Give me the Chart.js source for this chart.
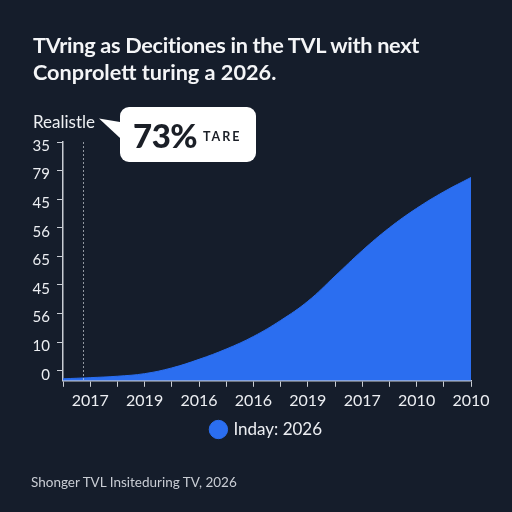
<!DOCTYPE html>
<html>
<head>
<meta charset="utf-8">
<script src="https://cdn.jsdelivr.net/npm/chart.js@4.4.1/dist/chart.umd.min.js"></script>
<style>
  html, body { margin: 0; padding: 0; background: #151d2b; }
  #wrap { position: relative; width: 512px; height: 512px; overflow: hidden; background: #151d2b; font-family: Lato, "Open Sans", sans-serif; }
  #chart-box { position: absolute; left: 0; top: 0; width: 512px; height: 512px; }
  .title { position: absolute; left: 33px; top: 32px; color: #f4f5f7; font-weight: 700; font-size: 21.7px; line-height: 27px; }
  .title .l1 { letter-spacing: -0.3px; }
  .realistle { position: absolute; left: 33px; top: 111px; color: #eef0f3; font-size: 17px; }
  .pointer { position: absolute; left: 99px; top: 116px; width: 24px; height: 26px; background: #fff; clip-path: polygon(0 10%, 100% 25%, 100% 95%); }
  .callout { position: absolute; left: 120px; top: 107px; width: 136px; height: 55px; background: #fff; border-radius: 9px; }
  .callout .big { position: absolute; left: 13px; top: 8px; font-size: 33px; font-weight: 900; color: #1b1f27; letter-spacing: -0.5px; }
  .callout .small { position: absolute; left: 83px; top: 22px; font-size: 12.5px; font-weight: 700; color: #1b1f27; letter-spacing: 2px; }
  .footer { position: absolute; left: 31px; top: 474px; color: #c9cdd4; font-size: 13.5px; }
</style>
</head>
<body>
<div id="wrap">
  <div id="chart-box"><canvas id="chart"></canvas></div>
  <div class="title"><span class="l1">TVring as Decitiones in the TVL with next</span><br>Conprolett turing a 2026.</div>
  <div class="realistle">Realistle</div>
  <div class="pointer"></div>
  <div class="callout"><span class="big">73%</span><span class="small">TARE</span></div>
  <div class="footer">Shonger TVL Insiteduring TV, 2026</div>
</div>
<script>
// x categories: first slot sits on the y axis, labels on every other tick
const categories = ['', '2017', '', '2019', '', '2016', '', '2016', '', '2019', '', '2017', '', '2010', '', '2010'];
// area values
const areaValues = [-2.8, -2.4, -1.9, -1.0, 1.0, 4.0, 7.6, 12, 17.6, 24.3, 33.1, 42, 50, 56.8, 62.6, 67.6];
// y tick labels from bottom to top
const yTickLabels = ['0', '10', '56', '45', '65', '56', '45', '79', '35'];
const seriesName = 'Inday: 2026';

const axisColor = '#c9cdd4';
const textColor = '#eceef2';

const todayLine = {
  id: 'todayLine',
  afterDatasetsDraw(chart) {
    const { ctx, chartArea, scales } = chart;
    const x = Math.round(scales.x.getPixelForValue(0.75)) + 0.5;
    ctx.save();
    ctx.strokeStyle = 'rgba(200,205,212,0.7)';
    ctx.lineWidth = 1;
    ctx.setLineDash([2, 2]);
    ctx.beginPath();
    ctx.moveTo(x, chartArea.top);
    ctx.lineTo(x, chartArea.bottom);
    ctx.stroke();
    ctx.restore();
  }
};

new Chart(document.getElementById('chart'), {
  type: 'line',
  data: {
    labels: categories,
    datasets: [{
      label: seriesName,
      data: areaValues,
      fill: 'start',
      backgroundColor: '#2b6ef0',
      borderColor: '#2b6ef0',
      borderWidth: 1,
      pointRadius: 0,
      tension: 0.4
    }]
  },
  options: {
    responsive: true,
    maintainAspectRatio: false,
    animation: false,
    layout: { padding: { top: 142, left: 0, right: 41, bottom: 64 } },
    plugins: {
      legend: {
        position: 'bottom',
        fullSize: false,
        labels: {
          color: textColor,
          font: { family: 'Lato', size: 17 },
          usePointStyle: true,
          pointStyle: 'circle',
          boxWidth: 13,
          boxHeight: 13,
          padding: 7
        }
      },
      tooltip: { enabled: false }
    },
    scales: {
      x: {
        offset: false,
        grid: { display: true, drawOnChartArea: false, drawTicks: true, tickLength: 6, color: axisColor },
        border: { display: true, color: axisColor, width: 1.5 },
        ticks: { color: textColor, font: { family: 'Lato', size: 16 }, autoSkip: false, maxRotation: 0, padding: 4 }
      },
      y: {
        min: -3.5,
        max: 80,
        afterFit: s => { s.width = 63; },
        afterBuildTicks: s => { s.ticks = yTickLabels.map((_, i) => ({ value: i * 10 })); },
        grid: { display: true, drawOnChartArea: false, drawTicks: true, tickLength: 6, color: axisColor },
        border: { display: true, color: axisColor, width: 1.5 },
        ticks: {
          color: textColor,
          font: { family: 'Lato', size: 15 },
          padding: 7,
          labelOffset: 4,
          callback: (v, i) => yTickLabels[i]
        }
      }
    }
  },
  plugins: [todayLine]
});
</script>
</body>
</html>
